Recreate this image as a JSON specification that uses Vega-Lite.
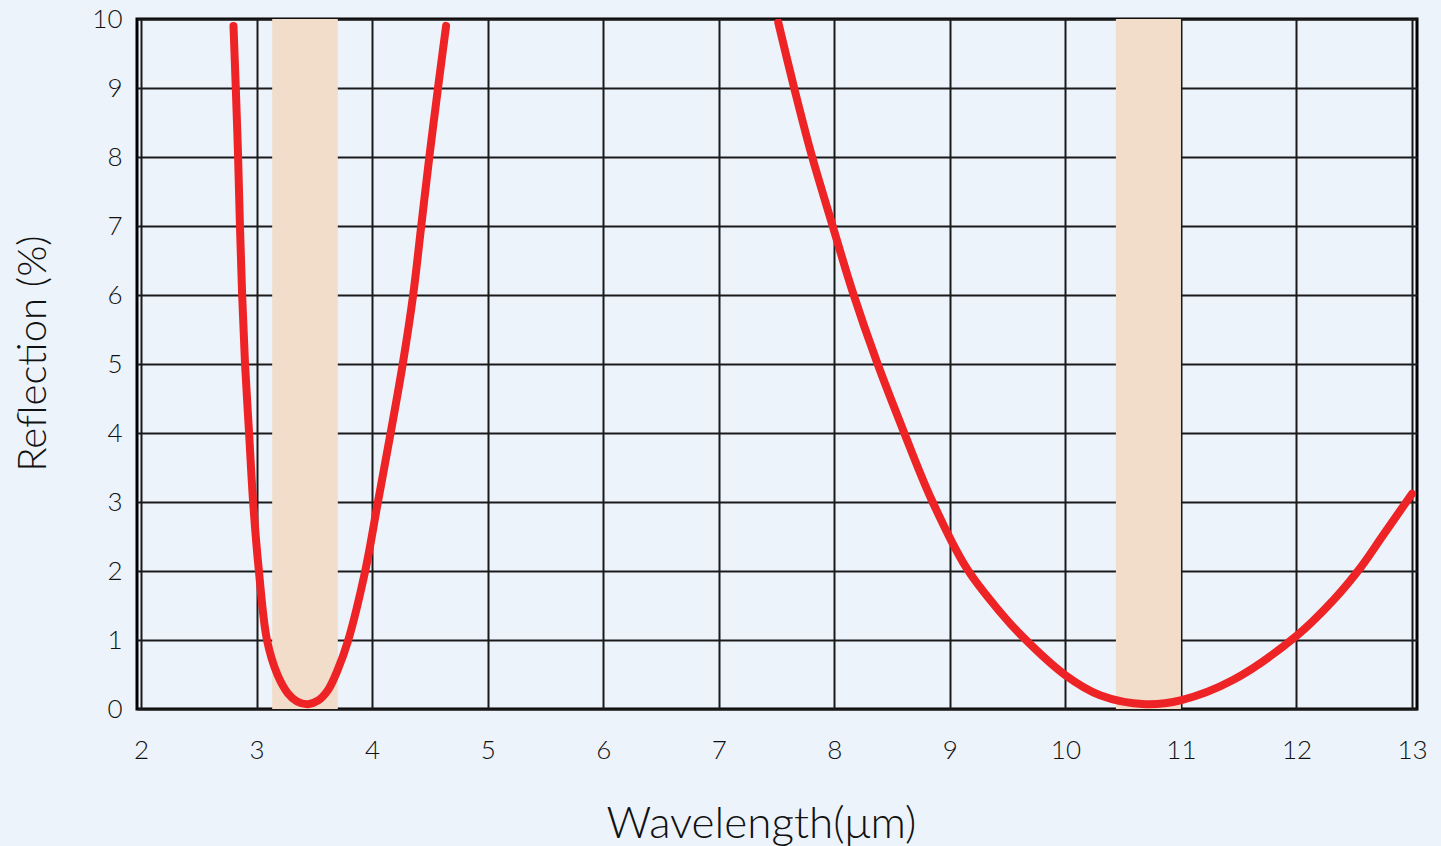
{
  "$schema": "https://vega.github.io/schema/vega-lite/v6.json",
  "autosize": "none",
  "width": 1280,
  "height": 690,
  "padding": {"left": 137, "top": 19, "right": 24, "bottom": 137},
  "background": "#ECF3FA",
  "config": {
    "view": {"stroke": "#000000", "strokeWidth": 3, "fill": "#ECF3FA"},
    "font": "Lato"
  },
  "datasets": {
    "bands": [
      {"x0": 3.135, "x1": 3.703},
      {"x0": 10.437, "x1": 11.0}
    ],
    "curves": [
      {"s": "a", "wl": 2.80, "r": 9.9},
      {"s": "a", "wl": 2.82, "r": 9.0},
      {"s": "a", "wl": 2.84, "r": 8.0},
      {"s": "a", "wl": 2.856, "r": 7.0},
      {"s": "a", "wl": 2.875, "r": 6.0},
      {"s": "a", "wl": 2.90, "r": 5.0},
      {"s": "a", "wl": 2.935, "r": 4.0},
      {"s": "a", "wl": 2.97, "r": 3.0},
      {"s": "a", "wl": 3.02, "r": 2.0},
      {"s": "a", "wl": 3.09, "r": 1.0},
      {"s": "a", "wl": 3.18, "r": 0.5},
      {"s": "a", "wl": 3.27, "r": 0.23},
      {"s": "a", "wl": 3.35, "r": 0.11},
      {"s": "a", "wl": 3.445, "r": 0.07},
      {"s": "a", "wl": 3.53, "r": 0.12},
      {"s": "a", "wl": 3.62, "r": 0.28},
      {"s": "a", "wl": 3.70, "r": 0.56},
      {"s": "a", "wl": 3.79, "r": 0.98},
      {"s": "a", "wl": 3.94, "r": 2.0},
      {"s": "a", "wl": 4.05, "r": 3.0},
      {"s": "a", "wl": 4.16, "r": 4.0},
      {"s": "a", "wl": 4.265, "r": 5.0},
      {"s": "a", "wl": 4.355, "r": 6.0},
      {"s": "a", "wl": 4.425, "r": 7.0},
      {"s": "a", "wl": 4.495, "r": 8.0},
      {"s": "a", "wl": 4.57, "r": 9.0},
      {"s": "a", "wl": 4.64, "r": 9.9},
      {"s": "b", "wl": 7.515, "r": 9.95},
      {"s": "b", "wl": 7.645, "r": 9.05},
      {"s": "b", "wl": 7.80, "r": 8.05},
      {"s": "b", "wl": 7.977, "r": 7.05},
      {"s": "b", "wl": 8.158, "r": 6.05},
      {"s": "b", "wl": 8.366, "r": 5.04},
      {"s": "b", "wl": 8.596, "r": 4.04},
      {"s": "b", "wl": 8.84, "r": 3.04},
      {"s": "b", "wl": 9.145, "r": 2.04},
      {"s": "b", "wl": 9.433, "r": 1.41},
      {"s": "b", "wl": 9.64, "r": 1.03},
      {"s": "b", "wl": 10.0, "r": 0.49},
      {"s": "b", "wl": 10.30, "r": 0.2},
      {"s": "b", "wl": 10.69, "r": 0.07},
      {"s": "b", "wl": 11.005, "r": 0.13},
      {"s": "b", "wl": 11.45, "r": 0.42},
      {"s": "b", "wl": 12.0, "r": 1.06},
      {"s": "b", "wl": 12.32, "r": 1.58},
      {"s": "b", "wl": 12.55, "r": 2.04},
      {"s": "b", "wl": 12.75, "r": 2.52},
      {"s": "b", "wl": 13.0, "r": 3.12}
    ]
  },
  "layer": [
    {
      "data": {"name": "bands"},
      "mark": {"type": "rect", "color": "#F1DDC9", "opacity": 1},
      "encoding": {
        "x": {
          "field": "x0", "type": "quantitative",
          "scale": {"domain": [1.965, 13.043], "nice": false, "zero": false},
          "axis": {
            "values": [2, 3, 4, 5, 6, 7, 8, 9, 10, 11, 12, 13], "format": "d",
            "grid": true, "gridColor": "#1a1a1a", "gridWidth": 2, "gridOpacity": 1,
            "domain": false, "ticks": false,
            "labelFontSize": 26, "labelColor": "#111111", "labelPadding": 28,
            "labelFont": "Lato", "labelFontWeight": 300, "labelFlush": false,
            "title": "Wavelength(μm)", "titleFontSize": 44, "titleFontWeight": 300,
            "titleColor": "#111111", "titleFont": "Lato",
            "titleX": 624, "titleY": 128, "titleBaseline": "alphabetic", "titleAlign": "center"
          }
        },
        "x2": {"field": "x1"},
        "y": {"datum": 0, "type": "quantitative"},
        "y2": {"datum": 10}
      }
    },
    {
      "data": {"name": "curves"},
      "mark": {"type": "line", "color": "#EE2326", "strokeWidth": 8, "strokeCap": "round", "strokeJoin": "round", "interpolate": "catmull-rom", "clip": true},
      "encoding": {
        "x": {"field": "wl", "type": "quantitative"},
        "y": {
          "field": "r", "type": "quantitative",
          "scale": {"domain": [0, 10], "nice": false},
          "axis": {
            "values": [0, 1, 2, 3, 4, 5, 6, 7, 8, 9, 10], "format": "d",
            "grid": true, "gridColor": "#1a1a1a", "gridWidth": 2, "gridOpacity": 1,
            "domain": false, "ticks": false,
            "labelFontSize": 26, "labelColor": "#111111", "labelPadding": 15,
            "labelFont": "Lato", "labelFontWeight": 300, "labelFlush": false,
            "title": "Reflection (%)", "titleFontSize": 40, "titleFontWeight": 300,
            "titleColor": "#111111", "titleFont": "Lato",
            "titleX": -92, "titleY": 334, "titleBaseline": "alphabetic", "titleAlign": "center", "titleAngle": 270
          }
        },
        "detail": {"field": "s", "type": "nominal"}
      }
    }
  ]
}
